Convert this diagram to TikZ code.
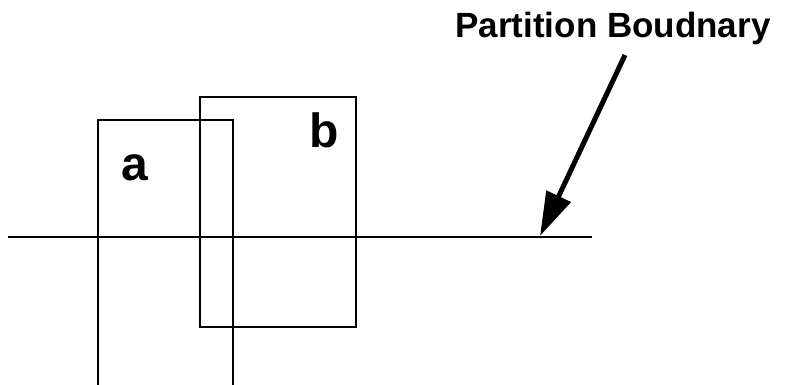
\documentclass[tikz,border=0pt]{standalone}
\usepackage{fontspec}
\setmainfont{Liberation Sans}
\usetikzlibrary{arrows.meta}
\begin{document}
\begin{tikzpicture}[x=1pt,y=-1pt,
  box/.style={draw=black,line width=2pt},
  lbl/.style={font=\bfseries\fontsize{48}{48}\selectfont,inner sep=0pt,anchor=base},
  ttl/.style={font=\bfseries\fontsize{35}{35}\selectfont,inner sep=0pt,anchor=base}]
\useasboundingbox (0,0) rectangle (786,384);
\begin{scope}
\clip (0,0) rectangle (786,384);
\draw[box] (98,400) -- (98,120) -- (233,120) -- (233,400);
\end{scope}
\node[box,minimum width=156pt,minimum height=230pt,inner sep=0pt,anchor=north west] (b) at (199,96) {};
\coordinate (l1) at (8,237);
\coordinate (l2) at (592,237);
\draw[line width=2pt] (l1) -- (l2);
\node[lbl] (la) at (135,180) {a};
\node[lbl] (lb) at (324,147) {b};
\node[ttl] (t) at (613,37) {Partition Boudnary};
\coordinate (as) at (625,55);
\coordinate (ae) at (540,236);
\draw[line width=5pt,-{Triangle[length=44pt,width=26pt]}] (as) -- (ae);
\end{tikzpicture}
\end{document}
